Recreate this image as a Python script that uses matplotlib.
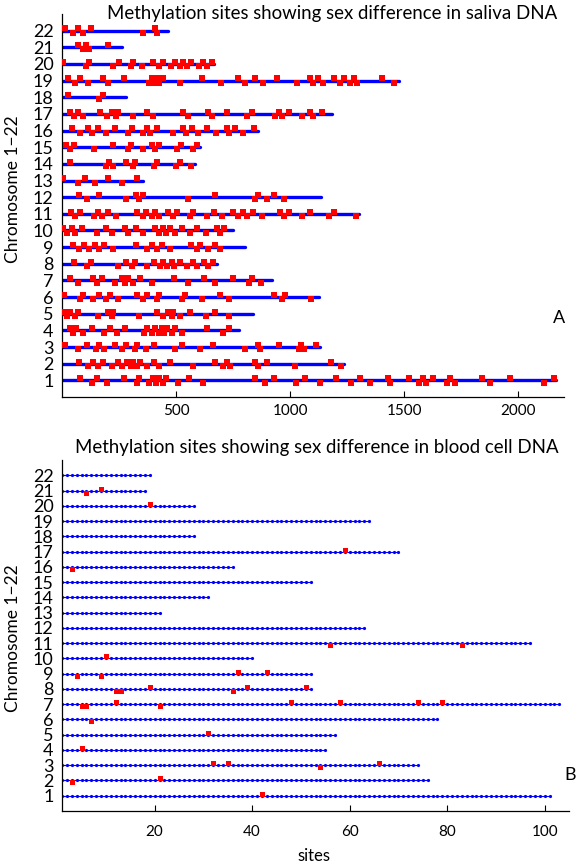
"""
Recreate: methylation sites showing sex difference (saliva vs blood cell DNA).
Two stacked panels, chromosome 1-22 on y.
"""

import numpy as np
import matplotlib
matplotlib.use('Agg')
import matplotlib.pyplot as plt

plt.rcParams['font.family'] = ['Lato', 'DejaVu Sans']

W, H = 581, 867          # output size in px
BLUE = '#0000ff'
RED = '#ff0000'

CHROMS = list(range(1, 23))

# --- Panel A (saliva): chromosome extent in sites, and hit positions ---
SALIVA_LEN = [2167, 1238, 1132, 776, 839, 1125, 922, 681, 803, 751, 1300,
              1136, 357, 583, 605, 857, 1183, 281, 1478, 668, 262, 466]

sal_chr1 = [79, 130, 155, 196, 272, 327, 339, 383, 398, 412, 427, 444, 456,
            510, 558, 620, 846, 890, 930, 1026, 1066, 1132, 1202, 1268, 1307,
            1351, 1427, 1439, 1519, 1563, 1582, 1596, 1626, 1687, 1702, 1724,
            1841, 1874, 1962, 2111, 2155]
sal_chr2 = [76, 115, 137, 159, 181, 218, 247, 262, 284, 301, 313, 327, 342,
            371, 404, 427, 474, 576, 671, 705, 722, 737, 846, 861, 898, 1022,
            1178, 1222]
sal_chr3 = [13, 72, 111, 149, 164, 184, 232, 262, 281, 320, 330, 368, 404,
            496, 525, 605, 661, 803, 857, 868, 949, 1037, 1047, 1061, 1114]
sal_chr4 = [35, 50, 61, 91, 130, 184, 211, 241, 276, 360, 374, 393, 408, 423,
            437, 447, 462, 481, 496, 525, 634, 707, 734]
sal_chr5 = [9, 20, 35, 57, 72, 159, 203, 218, 225, 339, 415, 442, 466, 481,
            488, 518, 561, 632, 671, 730]
sal_chr6 = [9, 79, 94, 135, 164, 193, 211, 247, 327, 354, 371, 415, 427, 525,
            539, 613, 693, 730, 927, 963, 978, 1091]
sal_chr7 = [35, 72, 137, 152, 174, 232, 262, 276, 291, 310, 342, 393, 491,
            554, 623, 671, 749, 818, 832, 871]
sal_chr8 = [53, 108, 126, 247, 281, 306, 320, 371, 404, 430, 444, 459, 481,
            491, 518, 547, 573, 591, 623, 642, 661]
sal_chr9 = [47, 76, 96, 120, 145, 164, 184, 222, 325, 371, 393, 418, 437, 474,
            567, 591, 605, 642, 671, 693]
sal_chr10 = [6, 20, 42, 57, 86, 152, 193, 218, 276, 291, 325, 357, 408, 427,
             442, 456, 474, 496, 525, 561, 591, 632, 678, 693, 711]
sal_chr11 = [38, 57, 79, 140, 159, 174, 203, 237, 327, 354, 368, 393, 408,
             427, 466, 488, 503, 561, 576, 635, 664, 700, 751, 773, 795, 810,
             839, 876, 956, 974, 993, 1051, 1085, 1168, 1190, 1289]
sal_chr12 = [76, 111, 164, 281, 325, 339, 354, 550, 671, 846, 861, 898, 927,
             971]
sal_chr13 = [3, 72, 101, 145, 203, 262, 327]
sal_chr14 = [35, 193, 208, 225, 281, 310, 320, 404, 418, 500, 518, 564]
sal_chr15 = [18, 35, 53, 140, 222, 291, 301, 354, 393, 408, 423, 503, 520,
             573, 591]
sal_chr16 = [42, 79, 115, 130, 159, 193, 232, 291, 306, 354, 371, 386, 415,
             488, 529, 544, 569, 598, 634, 675, 722, 734, 759, 795, 842]
sal_chr17 = [35, 53, 72, 94, 167, 196, 218, 237, 247, 313, 371, 398, 532, 550,
             642, 656, 722, 810, 832, 934, 949, 963, 993, 1051, 1088, 1102,
             1139]
sal_chr18 = [28, 164, 181]
sal_chr19 = [28, 57, 79, 115, 178, 203, 272, 383, 393, 404, 415, 427, 444,
             518, 613, 696, 773, 803, 846, 883, 942, 1029, 1088, 1102, 1124,
             1146, 1190, 1219, 1234, 1263, 1278, 1295, 1402, 1453]
sal_chr20 = [3, 105, 120, 225, 251, 301, 310, 349, 400, 427, 444, 476, 496,
             518, 532, 547, 564, 602, 620, 637, 656]
sal_chr21 = [72, 91, 105, 120, 203]
sal_chr22 = [13, 47, 72, 91, 126, 357, 408, 418]

SALIVA_SITES = [sal_chr1, sal_chr2, sal_chr3, sal_chr4, sal_chr5, sal_chr6,
                sal_chr7, sal_chr8, sal_chr9, sal_chr10, sal_chr11, sal_chr12,
                sal_chr13, sal_chr14, sal_chr15, sal_chr16, sal_chr17,
                sal_chr18, sal_chr19, sal_chr20, sal_chr21, sal_chr22]

# --- Panel B (blood): number of sites per chromosome, and hits ---
BLOOD_LEN = [101, 76, 74, 55, 57, 78, 103, 52, 52, 40, 97,
             63, 21, 31, 52, 36, 70, 28, 64, 28, 18, 19]

BLOOD_HIT_CHR = [1, 2, 2, 3, 3, 3, 3, 4, 5, 6,
                 7, 7, 7, 7, 7, 7, 7, 7,
                 8, 8, 8, 8, 8, 8, 9, 9, 9, 9,
                 10, 11, 11, 16, 17, 20, 21, 21]
BLOOD_HIT_SITE = [42, 3, 21, 32, 35, 54, 66, 5, 31, 7,
                  5, 6, 12, 21, 48, 58, 74, 79,
                  12, 13, 19, 36, 39, 51, 4, 9, 37, 43,
                  10, 56, 83, 3, 59, 19, 6, 9]
BLOOD_HIT_DIR = [1, -1, 1, 1, 1, -1, 1, 1, 1, -1,
                 -1, -1, 1, -1, 1, 1, 1, 1,
                 -1, -1, 1, -1, 1, 1, -1, -1, 1, 1,
                 1, -1, -1, -1, 1, 1, -1, 1]


def px_rect(left, top, right, bottom):
    """Axes rect in figure fractions from pixel edges."""
    return [left / W, 1 - bottom / H, (right - left) / W, (bottom - top) / H]


def style_axes(ax):
    for s in ('top', 'right'):
        ax.spines[s].set_visible(False)
    for s in ('left', 'bottom'):
        ax.spines[s].set_linewidth(0.9)
    ax.tick_params(direction='in', length=4, width=0.8)
    ax.set_yticks(CHROMS)
    ax.set_yticklabels([str(c) for c in CHROMS])
    ax.tick_params(axis='y', labelsize=13, pad=6)
    ax.set_ylim(0, 23)


fig = plt.figure(figsize=(W / 100, H / 100), dpi=100)

# --- Panel A ---
axA = fig.add_axes(px_rect(62, 14, 564, 397))
for c, L, sites in zip(CHROMS, SALIVA_LEN, SALIVA_SITES):
    axA.plot([0, L], [c, c], color=BLUE, lw=2.4, solid_capstyle='round',
             zorder=2)
    s = np.array(sites, dtype=float)
    jit = np.where(np.arange(len(s)) % 2 == 0, 0.13, -0.13)
    axA.plot(s, c + jit, 's', color=RED, ms=3.9, mew=0, zorder=3)
axA.set_xlim(0, 2200)
axA.set_xticks([500, 1000, 1500, 2000])
axA.tick_params(axis='x', labelsize=11, pad=5)
style_axes(axA)

# --- Panel B ---
axB = fig.add_axes(px_rect(62, 460, 569, 811))
for c, n in zip(CHROMS, BLOOD_LEN):
    x = np.arange(1, n + 1)
    axB.plot(x, np.full(n, c), '-o', color=BLUE, lw=0.8, ms=2.3, mew=0,
             zorder=2)
hc = np.array(BLOOD_HIT_CHR, dtype=float)
hd = np.array(BLOOD_HIT_DIR, dtype=float)
axB.plot(BLOOD_HIT_SITE, hc + 0.13 * hd, 's', color=RED, ms=3.6, mew=0,
         zorder=3)
axB.set_xlim(1, 105)
axB.set_xticks([20, 40, 60, 80, 100])
axB.tick_params(axis='x', labelsize=11, pad=10)
style_axes(axB)


def ftext(x, y, s, **kw):
    fig.text(x / W, 1 - y / H, s, ha='center', va='center', **kw)


ftext(332, 13, 'Methylation sites showing sex difference in saliva DNA',
      fontsize=13.4)
ftext(317, 448, 'Methylation sites showing sex difference in blood cell DNA',
      fontsize=13.4)
ftext(13, 189, 'Chromosome 1\u221222', fontsize=12.5, rotation=90)
ftext(13, 638, 'Chromosome 1\u221222', fontsize=12.5, rotation=90)
ftext(559, 318, 'A', fontsize=13)
ftext(570, 775, 'B', fontsize=13)
ftext(314, 856, 'sites', fontsize=12)

fig.savefig('out.png', dpi=100)
